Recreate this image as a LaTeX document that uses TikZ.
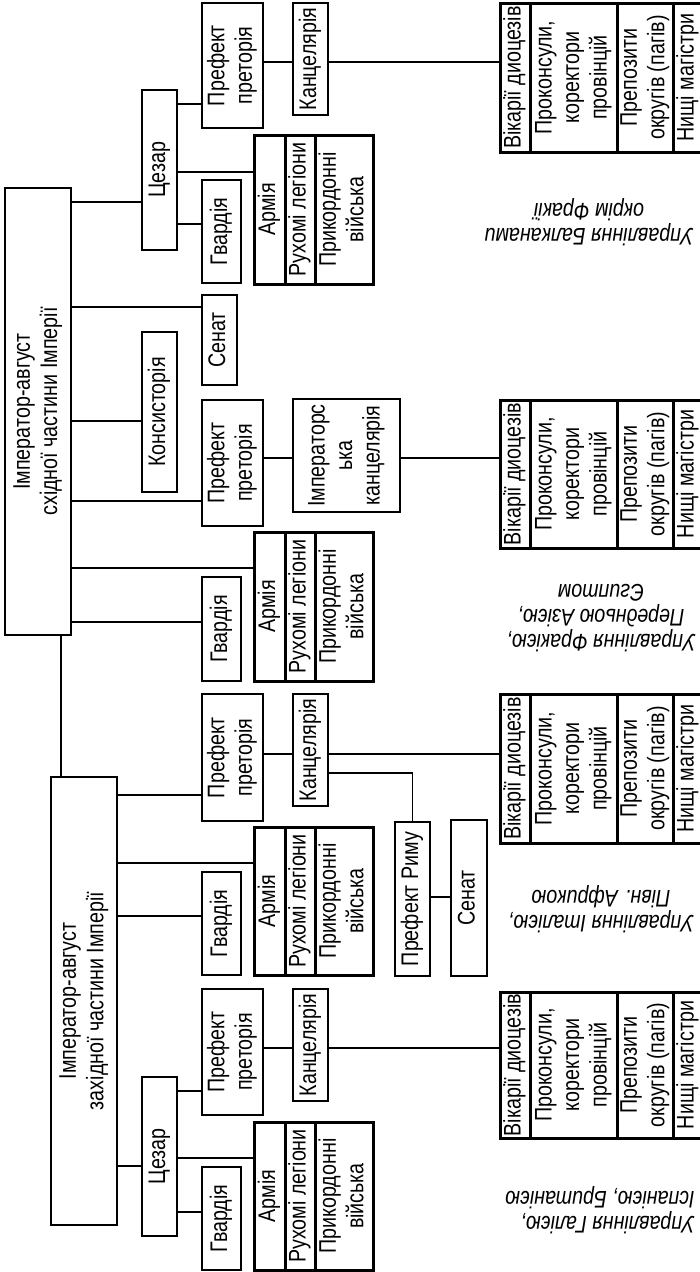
\documentclass[tikz,border=0pt]{standalone}
\usepackage{fontspec}
\setmainfont{Liberation Sans}[FakeStretch=0.82]
\usepackage{graphicx}
\newcommand\fs{\fontsize{24pt}{27.5pt}\selectfont}
\newcommand\rt[1]{\rotatebox{90}{\begin{tabular}{@{}c@{}}#1\end{tabular}}}
\tikzset{
  box/.style={draw, rectangle, line width=2.2pt, inner sep=0pt, outer sep=0pt, font=\fs},
  cell/.style={box, line width=3pt},
  conn/.style={line width=1.5pt},
  lbl/.style={font=\fontsize{24pt}{25pt}\selectfont\itshape, rotate=180, align=center, inner sep=0pt},
}
\newcommand\B[7]{\node[#2, minimum width={(#5-#3)*1pt}, minimum height={(#6-#4)*1pt}] (#1) at ({(#3+#5)/2},{(#4+#6)/2}) {\rt{#7}};}
\begin{document}
\begin{tikzpicture}[x=1pt,y=-1pt]
\useasboundingbox (0,0) rectangle (700,1272);
% ---------- east ----------
\B{impE}{box}{5}{188}{71}{635}{Імператор-август\\східної частини Імперії}
\B{cesE}{box}{142}{90}{177}{250}{Цезар}
\B{pr1}{box}{202}{3}{263}{128}{Префект\\преторія}
\B{ka1}{box}{293}{3}{328}{115}{Канцелярія}
\B{gv1}{box}{202}{180}{241}{283}{Гвардія}
\B{ar1a}{cell}{254}{135}{285}{284}{Армія}
\B{ar1b}{cell}{285}{135}{315}{284}{Рухомі легіони}
\B{ar1c}{cell}{315}{135}{373}{284}{Прикордонні\\війська}
\B{vi1a}{cell}{500}{3}{530}{152}{Вікарії диоцезів}
\B{vi1b}{cell}{530}{3}{617}{152}{Проконсули,\\коректори\\провінцій}
\B{vi1c}{cell}{617}{3}{673}{152}{Препозити\\округів (пагів)}
\B{vi1d}{cell}{673}{3}{703}{152}{Нищі магістри}
\B{senE}{box}{202}{295}{237}{385}{Сенат}
\B{kons}{box}{142}{332}{177}{492}{Консисторія}
\B{pr2}{box}{202}{400}{263}{526}{Префект\\преторія}
\B{ika}{box}{293}{399}{400}{512}{Імператорс\\ька\\канцелярія}
\B{vi2a}{cell}{500}{400}{530}{548}{Вікарії диоцезів}
\B{vi2b}{cell}{530}{400}{617}{548}{Проконсули,\\коректори\\провінцій}
\B{vi2c}{cell}{617}{400}{673}{548}{Препозити\\округів (пагів)}
\B{vi2d}{cell}{673}{400}{703}{548}{Нищі магістри}
\B{ar2a}{cell}{254}{532}{285}{681}{Армія}
\B{ar2b}{cell}{285}{532}{315}{681}{Рухомі легіони}
\B{ar2c}{cell}{315}{532}{373}{681}{Прикордонні\\війська}
\B{gv2}{box}{202}{577}{241}{681}{Гвардія}
% ---------- west ----------
\B{impW}{box}{51}{777}{117}{1225}{Імператор-август\\західної частини Імперії}
\B{pr3}{box}{202}{694}{263}{821}{Префект\\преторія}
\B{ka3}{box}{293}{694}{328}{806}{Канцелярія}
\B{vi3a}{cell}{500}{694}{530}{843}{Вікарії диоцезів}
\B{vi3b}{cell}{530}{694}{617}{843}{Проконсули,\\коректори\\провінцій}
\B{vi3c}{cell}{617}{694}{673}{843}{Препозити\\округів (пагів)}
\B{vi3d}{cell}{673}{694}{703}{843}{Нищі магістри}
\B{prR}{box}{395}{822}{430}{976}{Префект Риму}
\B{senW}{box}{451}{820}{487}{976}{Сенат}
\B{ar3a}{cell}{254}{827}{285}{975}{Армія}
\B{ar3b}{cell}{285}{827}{315}{975}{Рухомі легіони}
\B{ar3c}{cell}{315}{827}{373}{975}{Прикордонні\\війська}
\B{gv3}{box}{202}{872}{241}{975}{Гвардія}
\B{cesW}{box}{142}{1077}{177}{1236}{Цезар}
\B{pr4}{box}{202}{989}{263}{1115}{Префект\\преторія}
\B{ka4}{box}{293}{989}{328}{1101}{Канцелярія}
\B{vi4a}{cell}{500}{992}{530}{1138}{Вікарії диоцезів}
\B{vi4b}{cell}{530}{992}{617}{1138}{Проконсули,\\коректори\\провінцій}
\B{vi4c}{cell}{617}{992}{673}{1138}{Препозити\\округів (пагів)}
\B{vi4d}{cell}{673}{992}{703}{1138}{Нищі магістри}
\B{ar4a}{cell}{254}{1122}{285}{1270}{Армія}
\B{ar4b}{cell}{285}{1122}{315}{1270}{Рухомі легіони}
\B{ar4c}{cell}{315}{1122}{373}{1270}{Прикордонні\\війська}
\B{gv4}{box}{202}{1167}{241}{1270}{Гвардія}
% ---------- labels ----------
\node[lbl] (l1) at (589,222) {Управління Балканами\\окрім Фракії};
\node[lbl] (l2) at (601,618) {Управління Фракією,\\Передньою Азією,\\Єгиптом};
\node[lbl] (l3) at (601,909) {Управління Італією,\\Півн. Африкою};
\node[lbl, align=left] (l4) at (600,1210) {Управління Галією,\\Іспанією, Британією};
% ---------- connectors ----------
\draw[conn] (impE.east |- 0,202) -- (cesE.west |- 0,202);
\draw[conn] (impE.east |- 0,307) -- (senE.west |- 0,307);
\draw[conn] (impE.east |- 0,421) -- (kons.west |- 0,421);
\draw[conn] (impE.east |- 0,501) -- (pr2.west |- 0,501);
\draw[conn] (impE.east |- 0,568) -- (ar2a.west |- 0,568);
\draw[conn] (impE.east |- 0,622) -- (gv2.west |- 0,622);
\draw[conn] (cesE.east |- 0,104) -- (pr1.west |- 0,104);
\draw[conn] (cesE.east |- 0,172) -- (ar1a.west |- 0,172);
\draw[conn] (cesE.east |- 0,224) -- (gv1.west |- 0,224);
\draw[conn] (pr1.east |- 0,62) -- (ka1.west |- 0,62);
\draw[conn] (ka1.east |- 0,62) -- (vi1a.west |- 0,62);
\draw[conn] (pr2.east |- 0,458) -- (ika.west |- 0,458);
\draw[conn] (ika.east |- 0,458) -- (vi2a.west |- 0,458);
\draw[conn] (impE.south -| 61,0) -- (impW.north -| 61,0);
\draw[conn] (impW.east |- 0,795) -- (pr3.west |- 0,795);
\draw[conn] (impW.east |- 0,863) -- (ar3a.west |- 0,863);
\draw[conn] (impW.east |- 0,916) -- (gv3.west |- 0,916);
\draw[conn] (impW.east |- 0,1166) -- (cesW.west |- 0,1166);
\draw[conn] (pr3.east |- 0,754) -- (ka3.west |- 0,754);
\draw[conn] (ka3.east |- 0,754) -- (vi3a.west |- 0,754);
\draw[conn] (ka3.east |- 0,773) -| (prR.north);
\draw[conn] (prR.east |- 0,897) -- (senW.west |- 0,897);
\draw[conn] (cesW.east |- 0,1091) -- (pr4.west |- 0,1091);
\draw[conn] (cesW.east |- 0,1158) -- (ar4a.west |- 0,1158);
\draw[conn] (cesW.east |- 0,1212) -- (gv4.west |- 0,1212);
\draw[conn] (pr4.east |- 0,1048) -- (ka4.west |- 0,1048);
\draw[conn] (ka4.east |- 0,1048) -- (vi4a.west |- 0,1048);
\end{tikzpicture}
\end{document}
